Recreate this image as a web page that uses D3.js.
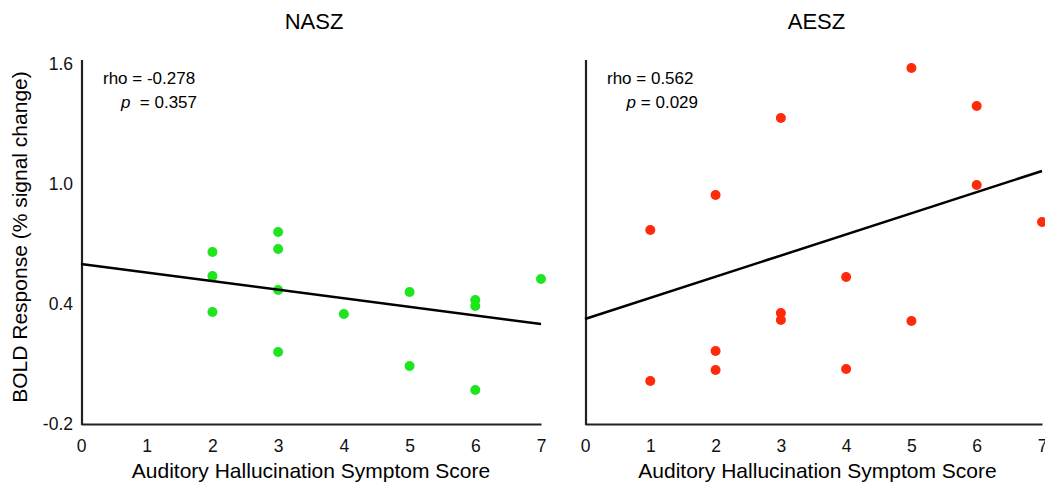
<!DOCTYPE html>
<html>
<head>
<meta charset="utf-8">
<script src="https://cdn.jsdelivr.net/npm/d3@7"></script>
<style>
  body { margin: 0; background: #fff; }
  svg { font-family: "Liberation Sans", Arial, sans-serif; }
</style>
</head>
<body>
<svg id="chart" width="1045" height="486"></svg>
<script>
// data
const xTicks = [0, 1, 2, 3, 4, 5, 6, 7];
const yTicks = [-0.2, 0.4, 1.0, 1.6];

const naszScore = [2, 2, 2, 3, 3, 3, 3, 4, 5, 5, 6, 6, 6, 7];
const naszBold = [0.66, 0.54, 0.36, 0.76, 0.675, 0.47, 0.16, 0.35, 0.46, 0.09, 0.42, 0.39, -0.03, 0.525];
const naszFit = [0.60, 0.30];   // fitted value at score 0 and 7

const aeszScore = [1, 1, 2, 2, 2, 3, 3, 3, 4, 4, 5, 5, 6, 6, 7];
const aeszBold = [0.77, 0.015, 0.945, 0.165, 0.07, 1.33, 0.355, 0.32, 0.535, 0.075, 1.58, 0.315, 1.39, 0.995, 0.81];
const aeszFit = [0.325, 1.065];

const panels = [
  {title: "NASZ", x: naszScore, y: naszBold, fit: naszFit, color: "#1ee61e",
   rho: "rho = -0.278", p: "= 0.357", left: 81, right: 541, yLabels: true, pEnd: 197},
  {title: "AESZ", x: aeszScore, y: aeszBold, fit: aeszFit, color: "#ff2a0a",
   rho: "rho = 0.562", p: "= 0.029", left: 585, right: 1042, yLabels: false, pEnd: 698}
];

const top_y = 64;
const bottom_y = 424;
const fmtY = d => d3.format(".1f")(d).replace("\u2212", "-");

const svg = d3.select("#chart");

const y = d3.scaleLinear().domain([-0.2, 1.6]).range([bottom_y, top_y]);

panels.forEach(pn => {
  const x = d3.scaleLinear().domain([0, 7]).range([pn.left, pn.right]);
  const g = svg.append("g");

  // title
  g.append("text")
    .attr("x", (pn.left + pn.right) / 2 + 3)
    .attr("y", 29)
    .attr("text-anchor", "middle")
    .attr("font-size", 22)
    .text(pn.title);

  // x axis
  const xa = g.append("g")
    .attr("transform", `translate(0,${bottom_y})`)
    .call(d3.axisBottom(x).tickValues(xTicks).tickSize(0).tickPadding(16).tickFormat(d3.format("d")));
  xa.select(".domain").attr("stroke", "#222").attr("stroke-width", 2.2);
  xa.selectAll("text").attr("font-size", 17.5).attr("fill", "#111")
    .attr("font-family", "Liberation Sans, Arial, sans-serif");

  // y axis
  const ya = g.append("g")
    .attr("transform", `translate(${pn.left + 1},0)`)
    .call(d3.axisLeft(y).tickValues(pn.yLabels ? yTicks : []).tickSize(0).tickPadding(9)
      .tickFormat(fmtY));
  ya.select(".domain").attr("stroke", "#222").attr("stroke-width", 2.2)
    .attr("d", `M0,${top_y - 4}V${bottom_y + 1}`);
  ya.selectAll("text").attr("font-size", 17.5).attr("fill", "#111")
    .attr("font-family", "Liberation Sans, Arial, sans-serif");

  // x label
  g.append("text")
    .attr("x", (pn.left + pn.right) / 2 + (pn.yLabels ? 0 : 4))
    .attr("y", 478)
    .attr("text-anchor", "middle")
    .attr("font-size", 21)
    .text("Auditory Hallucination Symptom Score");

  // points
  g.selectAll("circle")
    .data(pn.x.map((d, i) => [d, pn.y[i]]))
    .join("circle")
    .attr("cx", d => x(d[0]))
    .attr("cy", d => y(d[1]))
    .attr("r", 5)
    .attr("fill", pn.color);

  // regression line
  g.append("line")
    .attr("x1", x(0)).attr("y1", y(pn.fit[0]))
    .attr("x2", x(7)).attr("y2", y(pn.fit[1]))
    .attr("stroke", "#000")
    .attr("stroke-width", 2.5);

  // stats
  g.append("text")
    .attr("x", pn.left + 22)
    .attr("y", 84)
    .attr("font-size", 17)
    .text(pn.rho);
  const pt = g.append("text")
    .attr("x", pn.pEnd)
    .attr("y", 108)
    .attr("font-size", 17)
    .attr("text-anchor", "end")
    .attr("xml:space", "preserve");
  pt.append("tspan").attr("font-style", "italic").text("p");
  pt.append("tspan").text((pn.yLabels ? "  " : " ") + pn.p);
});

// y label
svg.append("text")
  .attr("transform", "translate(27,237) rotate(-90)")
  .attr("text-anchor", "middle")
  .attr("font-size", 21)
  .text("BOLD Response (% signal change)");
</script>
</body>
</html>
